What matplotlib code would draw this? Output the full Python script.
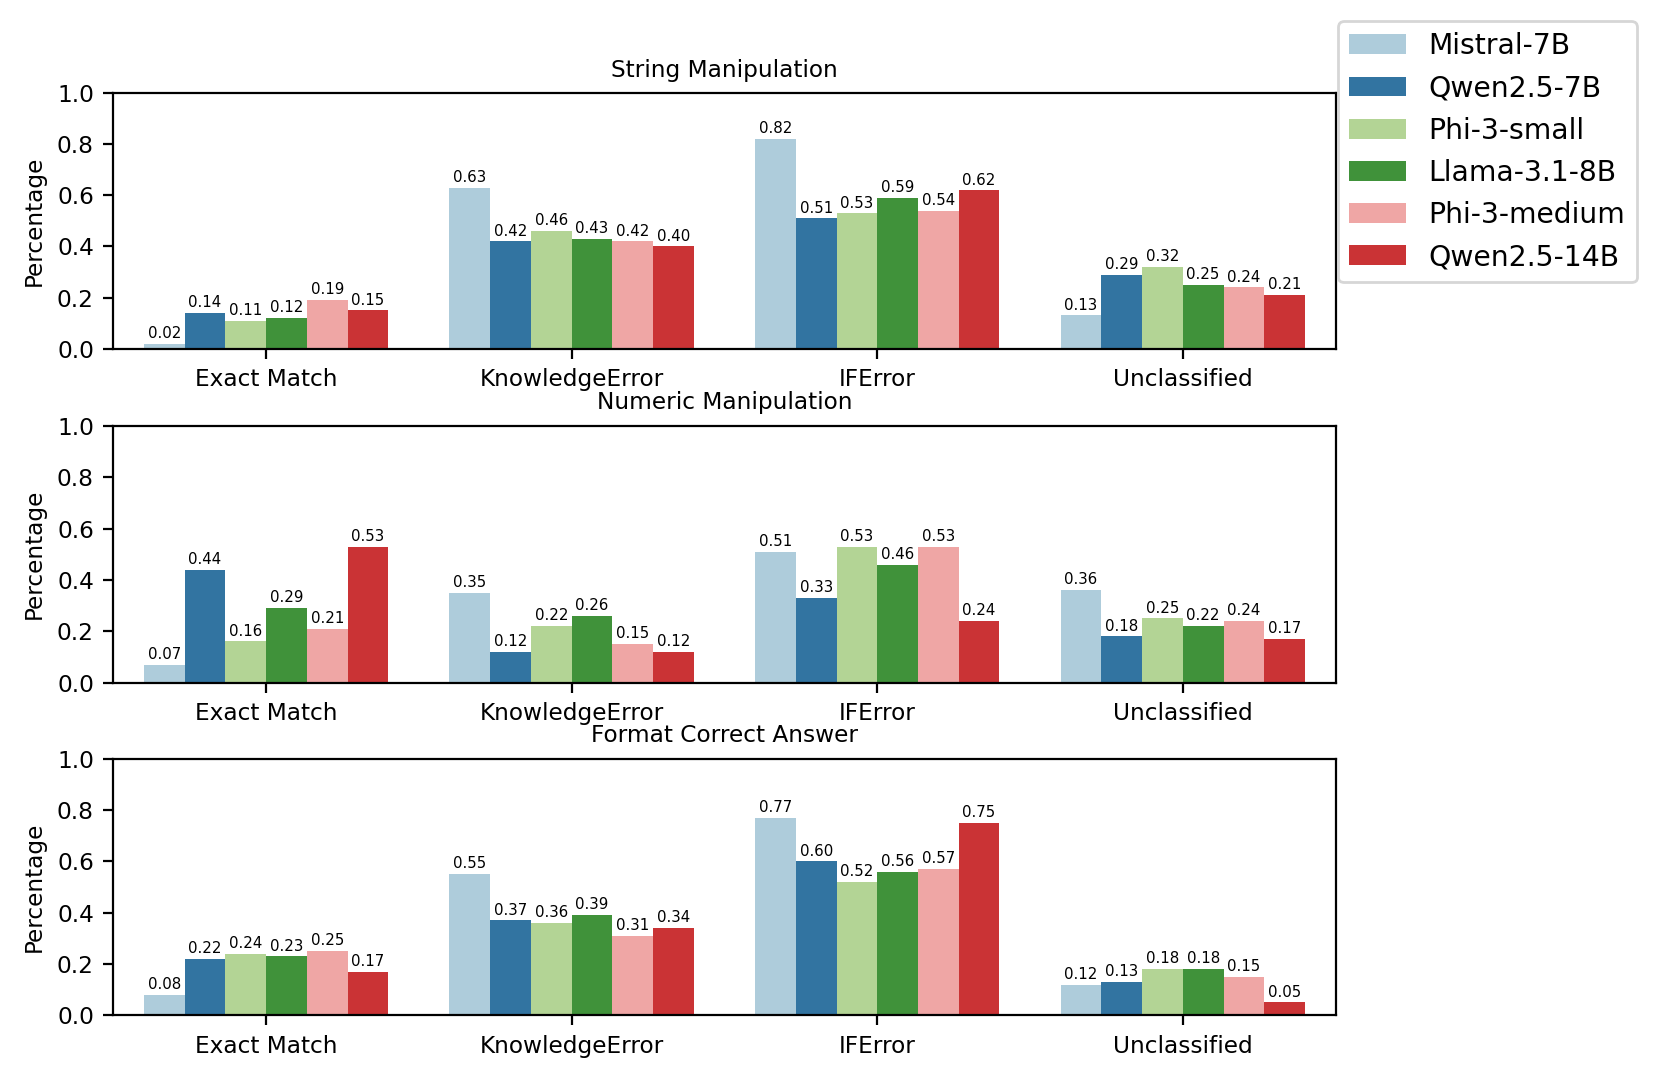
import matplotlib

matplotlib.use("Agg")
import matplotlib.pyplot as plt
import numpy as np
import seaborn as sns

models = ["Mistral-7B", "Qwen2.5-7B", "Phi-3-small", "Llama-3.1-8B", "Phi-3-medium", "Qwen2.5-14B"]
categories = ["Exact Match", "KnowledgeError", "IFError", "Unclassified"]
panel_titles = ["String Manipulation", "Numeric Manipulation", "Format Correct Answer"]

# values[model][category] per panel
string_vals = [
    [0.02, 0.63, 0.82, 0.13],
    [0.14, 0.42, 0.51, 0.29],
    [0.11, 0.46, 0.53, 0.32],
    [0.12, 0.43, 0.59, 0.25],
    [0.19, 0.42, 0.54, 0.24],
    [0.15, 0.40, 0.62, 0.21],
]
numeric_vals = [
    [0.07, 0.35, 0.51, 0.36],
    [0.44, 0.12, 0.33, 0.18],
    [0.16, 0.22, 0.53, 0.25],
    [0.29, 0.26, 0.46, 0.22],
    [0.21, 0.15, 0.53, 0.24],
    [0.53, 0.12, 0.24, 0.17],
]
format_vals = [
    [0.08, 0.55, 0.77, 0.12],
    [0.22, 0.37, 0.60, 0.13],
    [0.24, 0.36, 0.52, 0.18],
    [0.23, 0.39, 0.56, 0.18],
    [0.25, 0.31, 0.57, 0.15],
    [0.17, 0.34, 0.75, 0.05],
]
panels = [string_vals, numeric_vals, format_vals]

colors = [sns.desaturate(c, 0.75) for c in sns.color_palette("Paired", 6)]

plt.rcParams["font.size"] = 8.4

fig = plt.figure(figsize=(8.31, 5.405), dpi=200)
boxes = [(0.9137, 0.6775), (0.6059, 0.3686), (0.298, 0.0608)]
left, right = 0.0682, 0.8036

x = np.arange(len(categories))
n = len(models)
width = 0.8 / n
handles = []
for (top, bottom), title, vals in zip(boxes, panel_titles, panels):
    ax = fig.add_axes([left, bottom, right - left, top - bottom])
    for i, (name, row) in enumerate(zip(models, vals)):
        offs = -0.4 + width * (i + 0.5)
        bars = ax.bar(x + offs, row, width, color=colors[i], label=name, linewidth=0)
        ax.bar_label(bars, fmt="%.2f", fontsize=5.4, padding=1)
        if len(handles) < n:
            handles.append(bars)
    ax.set_xlim(-0.5, len(categories) - 0.5)
    ax.set_ylim(0, 1.0)
    ax.set_xticks(x)
    ax.set_xticklabels(categories)
    ax.set_ylabel("Percentage")
    ax.set_title(title, fontsize=8.4)

fig.legend(handles, models, loc="upper left", bbox_to_anchor=(0.805, 0.9806),
           borderaxespad=0, fontsize=10.2, frameon=True)

fig.savefig("out.png", dpi=200)
